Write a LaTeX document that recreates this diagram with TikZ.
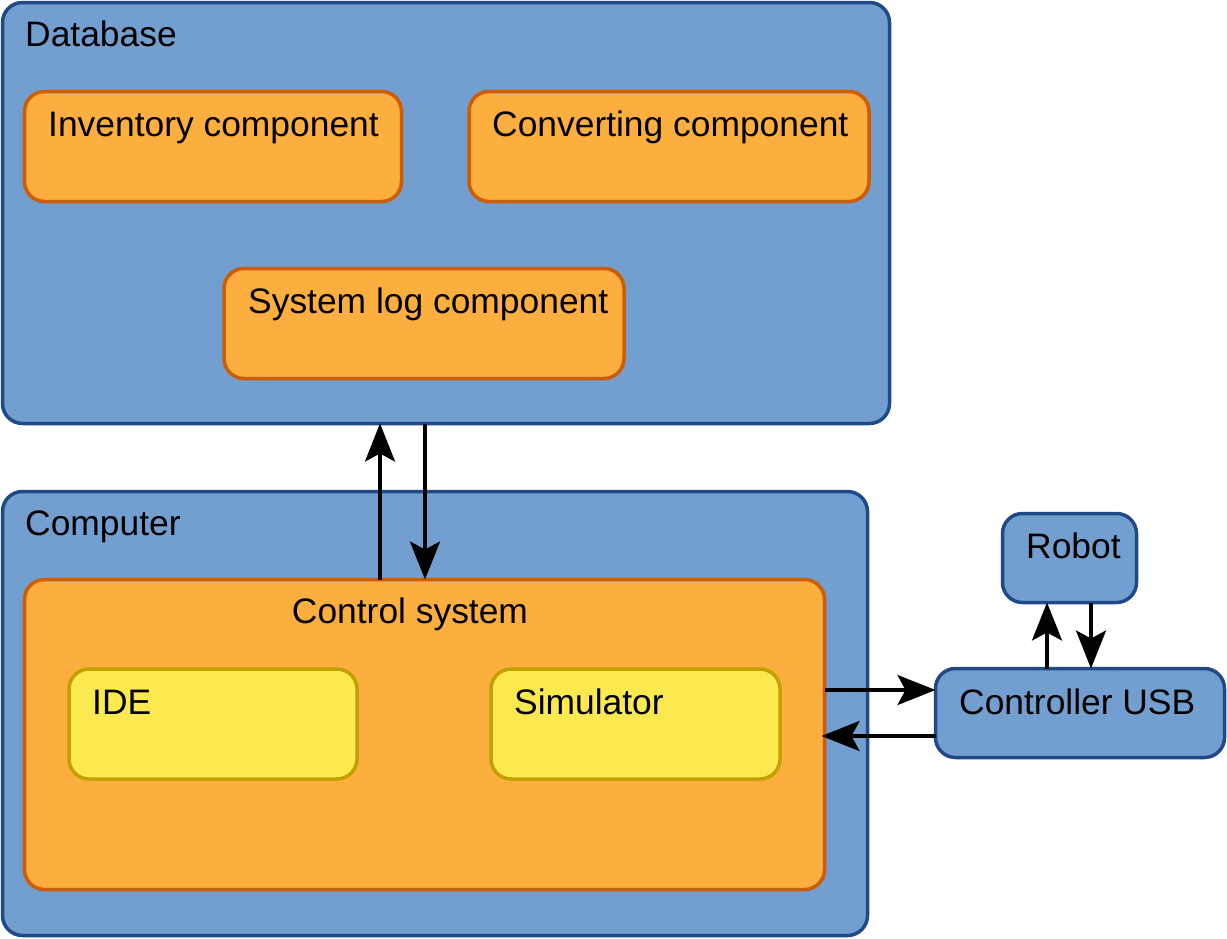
\documentclass[tikz,border=0pt]{standalone}
\usepackage{fontspec}
\setmainfont{Liberation Sans}
\usetikzlibrary{arrows.meta,calc}
\definecolor{bluefill}{HTML}{729FCF}
\definecolor{blueline}{HTML}{204A87}
\definecolor{orangefill}{HTML}{FCAF3E}
\definecolor{orangeline}{HTML}{CE5C00}
\definecolor{yellowfill}{HTML}{FCE94F}
\definecolor{yellowline}{HTML}{C4A000}
\tikzset{
  boxbase/.style={rectangle, rounded corners=20pt, line width=3.5pt, anchor=north west, inner sep=0pt, outer sep=0pt},
  bluebox/.style={boxbase, draw=blueline, fill=bluefill},
  orangebox/.style={boxbase, draw=orangeline, fill=orangefill},
  yellowbox/.style={boxbase, draw=yellowline, fill=yellowfill},
  lbl/.style={anchor=base west, inner sep=0pt, font=\fontsize{35.4}{42}\selectfont},
  arr/.style={line width=3.5pt, -{Stealth[length=38pt,width=30pt,inset=8pt]}}
}
\begin{document}
\begin{tikzpicture}[x=1pt,y=-1pt]
\useasboundingbox (0,0) rectangle (1227,938);
% Database
\node[bluebox, minimum width=887pt, minimum height=421pt] (db) at (2.5,2.5) {};
\node[lbl] (dblbl) at (25,46) {Database};
\node[orangebox, minimum width=377pt, minimum height=110pt] (inv) at (24.5,91.5) {};
\node[lbl] (invlbl) at (48,136) {Inventory component};
\node[orangebox, minimum width=400pt, minimum height=110pt] (conv) at (469,91.5) {};
\node[lbl] (convlbl) at (492,136) {Converting component};
\node[orangebox, minimum width=400pt, minimum height=110pt] (slog) at (224,268.5) {};
\node[lbl] (sloglbl) at (248,313) {System log component};
% Computer
\node[bluebox, minimum width=865pt, minimum height=444pt] (comp) at (2.5,491.5) {};
\node[lbl] (complbl) at (25,535) {Computer};
\node[orangebox, minimum width=800pt, minimum height=310pt] (ctrl) at (24.5,579.5) {};
\node[lbl, anchor=base] (ctrllbl) at (410,623) {Control system};
\node[yellowbox, minimum width=288pt, minimum height=110pt] (ide) at (69,669) {};
\node[lbl] (idelbl) at (92,714) {IDE};
\node[yellowbox, minimum width=289pt, minimum height=110pt] (sim) at (491,669) {};
\node[lbl] (simlbl) at (514,714) {Simulator};
% Robot and controller
\node[bluebox, minimum width=134pt, minimum height=89pt] (robot) at (1002.5,513.5) {};
\node[lbl] (robotlbl) at (1026,558) {Robot};
\node[bluebox, minimum width=289pt, minimum height=89pt] (usb) at (935.5,668.5) {};
\node[lbl] (usblbl) at (959,714) {Controller USB};
% helper coordinates
\coordinate (xa) at (380,0);
\coordinate (xb) at (425,0);
\coordinate (ya) at (0,690);
\coordinate (yb) at (0,736);
\coordinate (xc) at (1047,0);
\coordinate (xd) at (1091,0);
% connectors
\draw[arr] (ctrl.north -| xa) -- (db.south -| xa);
\draw[arr] (db.south -| xb) -- (ctrl.north -| xb);
\draw[arr] (ctrl.east |- ya) -- (usb.west |- ya);
\draw[arr] (usb.west |- yb) -- ($(ctrl.east |- yb)+(-3,0)$);
\draw[arr] (usb.north -| xc) -- (robot.south -| xc);
\draw[arr] (robot.south -| xd) -- (usb.north -| xd);
\end{tikzpicture}
\end{document}
